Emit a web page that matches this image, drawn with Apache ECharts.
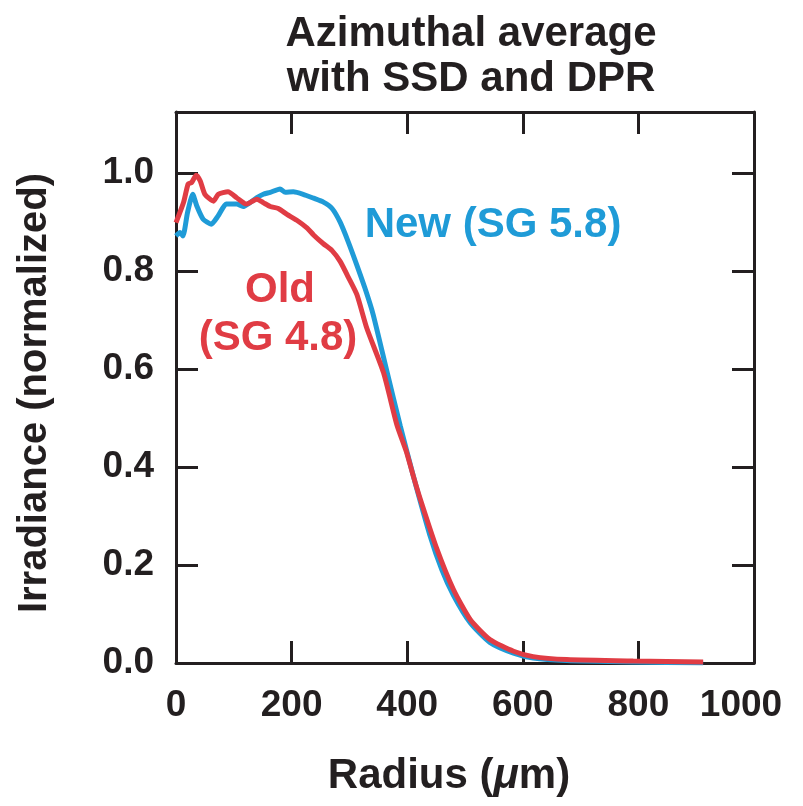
<!DOCTYPE html>
<html>
<head>
<meta charset="utf-8">
<script src="https://cdn.jsdelivr.net/npm/echarts@6/dist/echarts.min.js"></script>
<style>
html,body{margin:0;padding:0;background:#fff;}
#chart{width:803px;height:806px;}
</style>
</head>
<body>
<div id="chart"></div>
<script>
// Data (radius in µm, normalized irradiance)
const titleLines = ["Azimuthal average", "with SSD and DPR"];
const xTicks = [0, 200, 400, 600, 800, 1000];
const yTicks = [0, 0.2, 0.4, 0.6, 0.8, 1.0];
const newName = "New (SG 5.8)";
const oldName = ["Old", "(SG 4.8)"];
const newSeries = [
  [0,0.872],[7,0.879],[12,0.872],[20,0.92],[29,0.957],[36,0.933],[47,0.906],[61,0.896],[73,0.913],
  [87,0.937],[105,0.937],[116,0.932],[128,0.94],[140,0.95],[151,0.957],[163,0.961],[180,0.968],
  [189,0.961],[203,0.962],[220,0.957],[238,0.949],[255,0.941],[270,0.928],[284,0.900],[298,0.860],
  [313,0.812],[327,0.765],[341,0.712],[365,0.595],[388,0.484],[411,0.380],[439,0.262],[460,0.19],
  [480,0.138],[509,0.082],[543,0.042],[584,0.020],[618,0.010],[676,0.005],[791,0.002],[912,0.0]
];
const oldSeries = [
  [0,0.899],[13,0.94],[21,0.978],[27,0.981],[35,0.996],[42,0.984],[50,0.957],[65,0.943],[73,0.957],
  [90,0.962],[105,0.950],[122,0.937],[140,0.947],[151,0.940],[163,0.932],[177,0.928],[192,0.916],
  [209,0.904],[227,0.888],[238,0.874],[255,0.856],[270,0.842],[284,0.820],[298,0.788],[313,0.752],
  [330,0.684],[359,0.593],[382,0.487],[399,0.43],[411,0.38],[422,0.337],[451,0.234],[480,0.150],
  [509,0.089],[543,0.048],[584,0.024],[618,0.013],[676,0.007],[791,0.004],[912,0.002]
];

const ink = '#231f20';
const blue = '#1f9bd7';
const red = '#e03c44';
const font = '"Liberation Sans", Arial, Helvetica, sans-serif';

const chart = echarts.init(document.getElementById('chart'));
const line = {show: true, onZero: false, lineStyle: {color: ink, width: 3}};
const tick = (vals) => ({show: true, inside: true, length: 22, lineStyle: {color: ink, width: 3}, customValues: vals});
const labelFont = {color: ink, fontFamily: font, fontWeight: 'bold', fontSize: 37};
chart.setOption({
  animation: false,
  backgroundColor: '#fff',
  grid: {left: 176, right: 49, top: 112, bottom: 143, containLabel: false},
  title: {
    text: titleLines.join('\n'),
    left: 466, top: 7, textAlign: 'center',
    textStyle: {fontFamily: font, fontWeight: 'bold', fontSize: 42, lineHeight: 45, color: ink}
  },
  xAxis: [
    {
      type: 'value', min: 0, max: 1000, interval: 200, position: 'bottom',
      axisLine: line, splitLine: {show: false}, axisTick: tick(xTicks),
      axisLabel: Object.assign({show: true, margin: 24, customValues: xTicks,
        formatter: v => v === 1000 ? '{last|1000}' : String(v),
        rich: {last: Object.assign({padding: [0, 26, 0, 0]}, labelFont)}}, labelFont)
    },
    {
      type: 'value', min: 0, max: 1000, interval: 200, position: 'top',
      axisLine: line, splitLine: {show: false}, axisTick: tick(xTicks), axisLabel: {show: false}
    }
  ],
  yAxis: [
    {
      type: 'value', min: 0, max: 1.125, interval: 0.2, position: 'left',
      axisLine: line, splitLine: {show: false}, axisTick: tick(yTicks),
      axisLabel: Object.assign({show: true, margin: 22, customValues: yTicks,
        formatter: v => v.toFixed(1)}, labelFont)
    },
    {
      type: 'value', min: 0, max: 1.125, interval: 0.2, position: 'right',
      axisLine: line, splitLine: {show: false}, axisTick: tick(yTicks), axisLabel: {show: false}
    }
  ],
  graphic: [
    {type: 'text', x: 449, y: 776, style: {
      text: '{a|Radius (}{b|μ}{a|m)}', align: 'center', verticalAlign: 'middle',
      rich: {
        a: {fontFamily: font, fontWeight: 'bold', fontSize: 42, fill: ink, color: ink},
        b: {fontFamily: font, fontWeight: 'bold', fontStyle: 'italic', fontSize: 42, fill: ink, color: ink}
      }
    }},
    {type: 'text', x: 35, y: 393, rotation: Math.PI / 2, style: {
      text: 'Irradiance (normalized)', fontFamily: font, fontWeight: 'bold', fontSize: 40,
      fill: ink, align: 'center', verticalAlign: 'middle'
    }},
    {type: 'text', x: 493, y: 225, style: {
      text: newName, fontFamily: font, fontWeight: 'bold', fontSize: 42, fill: blue,
      align: 'center', verticalAlign: 'middle'
    }},
    {type: 'text', x: 280, y: 290, style: {
      text: oldName[0], fontFamily: font, fontWeight: 'bold', fontSize: 42, fill: red,
      align: 'center', verticalAlign: 'middle'
    }},
    {type: 'text', x: 278, y: 338, style: {
      text: oldName[1], fontFamily: font, fontWeight: 'bold', fontSize: 42, fill: red,
      align: 'center', verticalAlign: 'middle'
    }}
  ],
  series: [
    {type: 'line', name: newName, data: newSeries, xAxisIndex: 0, yAxisIndex: 0, showSymbol: false,
      smooth: 0.2, lineStyle: {color: blue, width: 5}, z: 3},
    {type: 'line', name: oldName.join(' '), data: oldSeries, xAxisIndex: 0, yAxisIndex: 0, showSymbol: false,
      smooth: 0.2, lineStyle: {color: red, width: 5}, z: 4}
  ]
});
</script>
</body>
</html>
